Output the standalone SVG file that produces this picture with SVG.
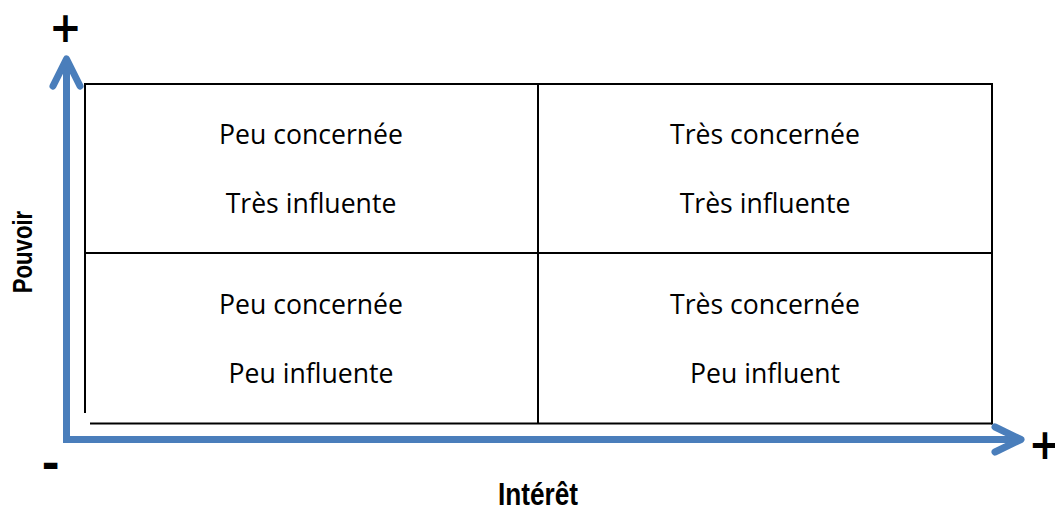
<svg xmlns="http://www.w3.org/2000/svg" width="1055" height="508" viewBox="0 0 1055 508">
<style>
.grid{stroke:#000;stroke-width:2;fill:none}
.q{font-family:"Open Sans","Noto Sans",sans-serif;font-size:26.6px;fill:#000;text-anchor:middle}
.ax{font-family:"Liberation Sans",Arial,sans-serif;font-weight:bold;fill:#000;text-anchor:middle}
.sign{font-family:"DejaVu Sans",sans-serif;font-weight:bold;fill:#000;text-anchor:middle}
.axis{stroke:#4a7ebb;stroke-width:7;fill:none;stroke-linecap:round;stroke-linejoin:round}
</style>
<rect width="1055" height="508" fill="#fff"/>
<g id="grid">
<line class="grid" x1="85" y1="84" x2="992" y2="84"/>
<line class="grid" x1="85" y1="83" x2="85" y2="413"/>
<line class="grid" x1="90" y1="423.5" x2="992" y2="423.5"/>
<line class="grid" x1="992" y1="83" x2="992" y2="424.5"/>
<line class="grid" x1="538" y1="84" x2="538" y2="423"/>
<line class="grid" x1="85" y1="253" x2="992" y2="253"/>
</g>
<g id="q-top-left">
<text class="q" x="311" y="144">Peu concernée</text>
<text class="q" x="311" y="213">Très influente</text>
</g>
<g id="q-top-right">
<text class="q" x="765" y="144">Très concernée</text>
<text class="q" x="765" y="213">Très influente</text>
</g>
<g id="q-bottom-left">
<text class="q" x="311" y="314">Peu concernée</text>
<text class="q" x="311" y="383">Peu influente</text>
</g>
<g id="q-bottom-right">
<text class="q" x="765" y="314">Très concernée</text>
<text class="q" x="765" y="383">Peu influent</text>
</g>
<g id="connectors">
<line class="axis" x1="66.5" y1="440" x2="66.5" y2="60" style="stroke-linecap:butt"/>
<polyline class="axis" points="53,86 66.5,59 80,86"/>
<line class="axis" x1="63" y1="439.5" x2="1020" y2="439.5" style="stroke-linecap:butt"/>
<polyline class="axis" points="995,427 1021,439.5 995,452"/>
</g>
<g id="labels">
<text class="ax" font-size="32" transform="translate(538,505) scale(0.82,1)">Intérêt</text>
<text class="ax" font-size="27" transform="translate(31.5,252) rotate(-90) scale(0.82,1)">Pouvoir</text>
<text class="sign" font-size="42" transform="translate(65.5,42) scale(0.92,1.02)">+</text>
<text class="sign" font-size="42" transform="translate(1045,459) scale(0.92,1.02)">+</text>
<text class="sign" font-size="44" transform="translate(50.5,479)">-</text>
</g>
</svg>
